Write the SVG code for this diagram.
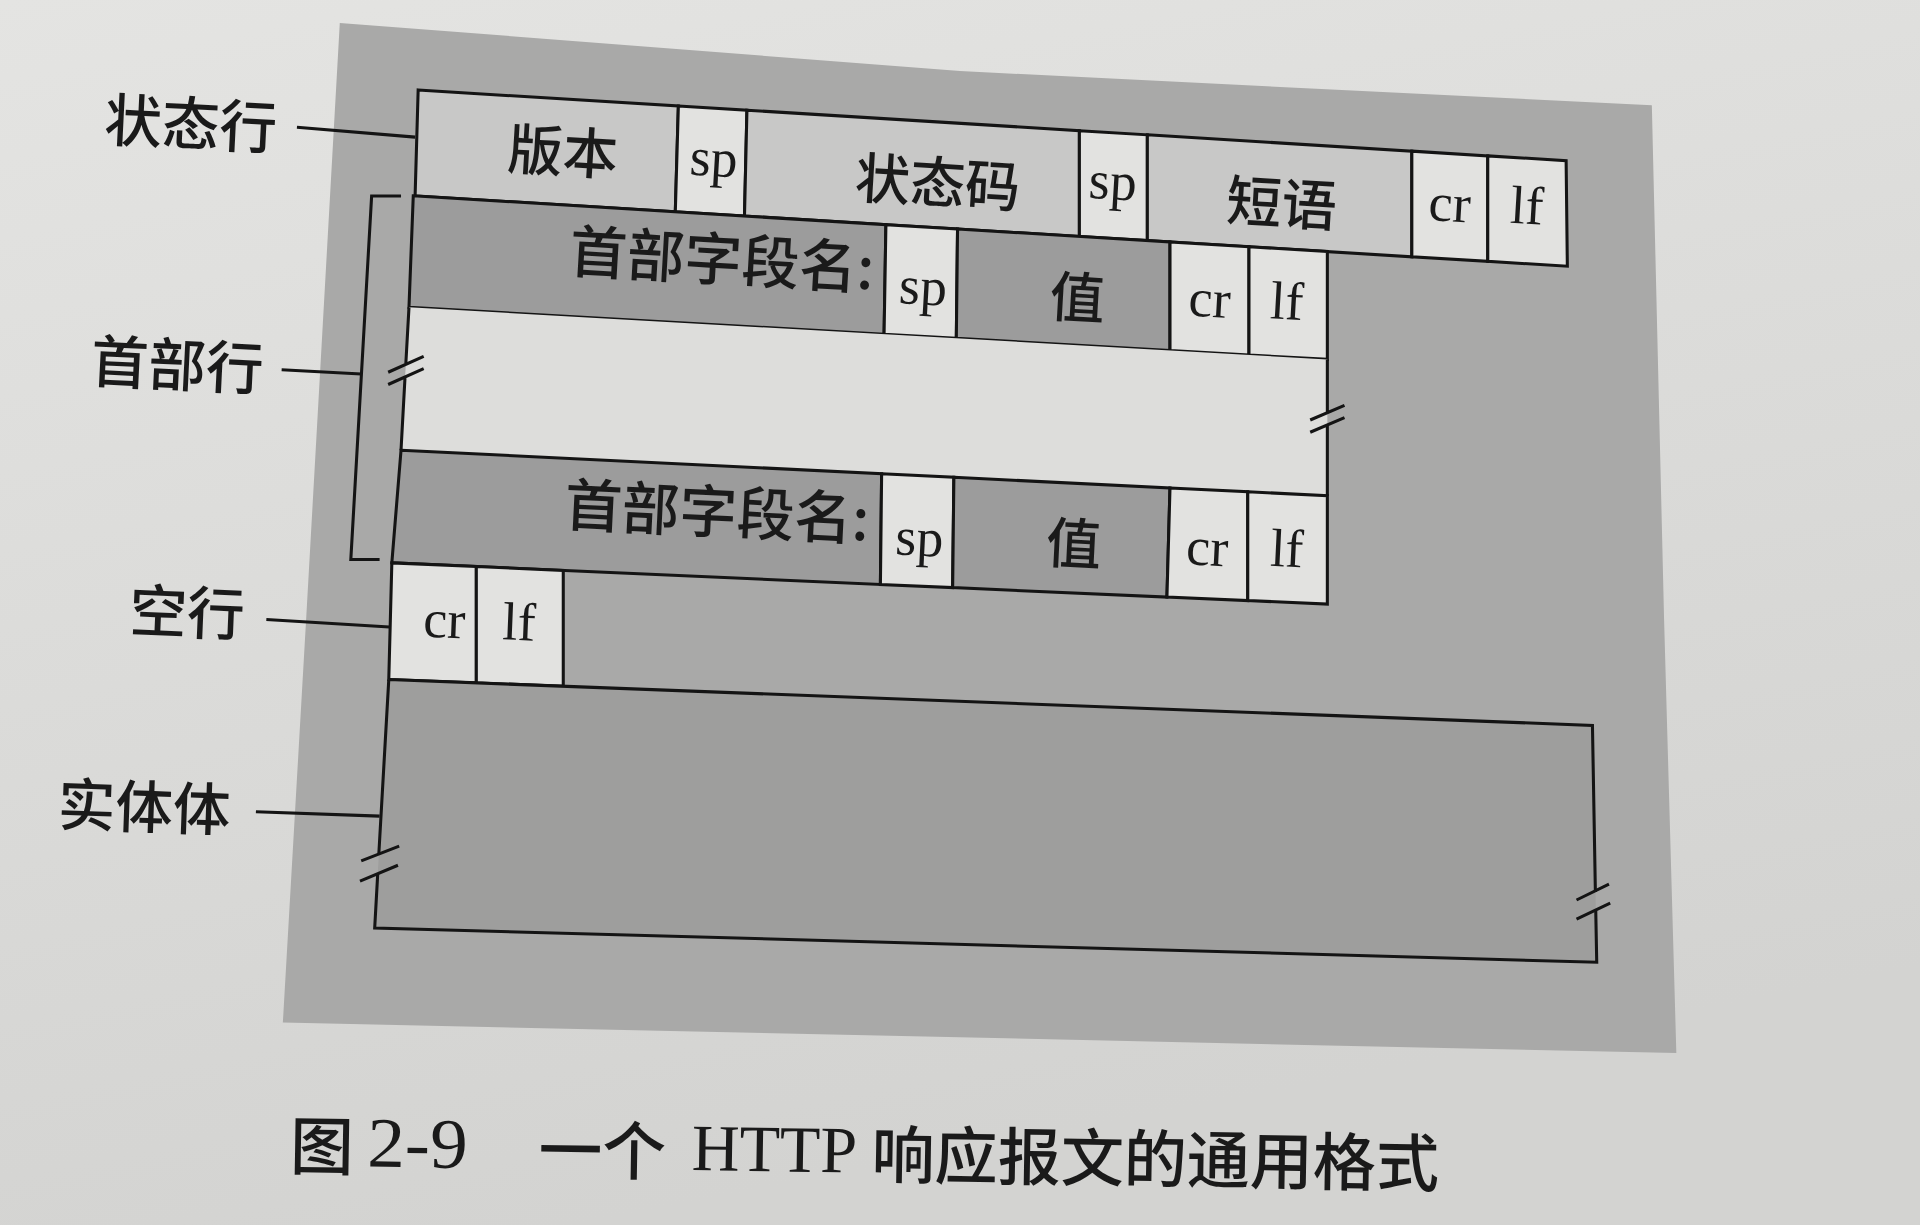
<svg xmlns="http://www.w3.org/2000/svg" width="1920" height="1225" viewBox="0 0 1920 1225">
<defs>
<linearGradient id="paper" x1="0" y1="0" x2="0.3" y2="1">
<stop offset="0" stop-color="#e4e4e2"/>
<stop offset="1" stop-color="#d3d3d1"/>
</linearGradient>
<style>
.cell{stroke:#141414;stroke-width:2.5;stroke-linejoin:miter}
.mid{fill:#c8c8c7}
.light{fill:#e2e2e0}
.dark{fill:#9c9c9c}
.line{fill:none;stroke:#141414;stroke-width:2.5}
.cjk{font-family:"Noto Sans CJK SC","Noto Sans CJK JP",sans-serif;font-weight:500;fill:#1a1a1a;dominant-baseline:central}
.lat{font-family:"Liberation Serif",serif;fill:#1a1a1a;dominant-baseline:central}
.c{text-anchor:middle}
</style>
</defs>
<rect width="1920" height="1225" fill="url(#paper)"/>
<g transform="scale(1.22449)">
  <polygon id="frame" points="277.5,18.7 784,58 1349,86 1359,506 1369,860 231,835 250,506" fill="#a9a9a8"/>

  <g id="status-line">
    <polygon class="cell mid" points="341.5,73.5 554,86.6 551.5,173 339,160"/>
    <polygon class="cell light" points="554,86.6 610,90 608,176.4 551.5,173"/>
    <polygon class="cell mid" points="610,90 881.5,106.7 881.5,193.1 608,176.4"/>
    <polygon class="cell light" points="881.5,106.7 937,110.1 937,196.5 881.5,193.1"/>
    <polygon class="cell mid" points="937,110.1 1153,123.4 1153,209.7 937,196.5"/>
    <polygon class="cell light" points="1153,123.4 1215,127.3 1215,213.4 1153,209.7"/>
    <polygon class="cell light" points="1215,127.3 1279,131.2 1280,217.4 1215,213.4"/>
    <text class="cjk c" font-size="45" x="460" y="121" transform="rotate(3.4 460 121)">版本</text>
    <text class="lat c" font-size="44" x="583" y="129" transform="rotate(3.4 583 129)">sp</text>
    <text class="cjk c" font-size="45" x="766" y="146" transform="rotate(3.4 766 146)">状态码</text>
    <text class="lat c" font-size="44" x="909" y="148" transform="rotate(3.4 909 148)">sp</text>
    <text class="cjk c" font-size="45" x="1047" y="163" transform="rotate(3.4 1047 163)">短语</text>
    <text class="lat c" font-size="44" x="1184" y="166" transform="rotate(3.4 1184 166)">cr</text>
    <text class="lat c" font-size="44" x="1247" y="168" transform="rotate(3.4 1247 168)">lf</text>
  </g>

  <g id="header-row-1">
    <polygon class="cell dark" points="337.5,159.9 723.5,183.5 722,273 334,251"/>
    <polygon class="cell light" points="723.5,183.5 782,187 781,276.3 722,273"/>
    <polygon class="cell dark" points="782,187 955.5,197.6 955.5,286.2 781,276.3"/>
    <polygon class="cell light" points="955.5,197.6 1020,201.5 1020,289.9 955.5,286.2"/>
    <polygon class="cell light" points="1020,201.5 1084,205.4 1084,293.5 1020,289.9"/>
    <text class="cjk" font-size="47" text-anchor="end" x="714" y="216" transform="rotate(3.3 714 216)">首部字段名:</text>
    <text class="lat c" font-size="44" x="754" y="234" transform="rotate(3.3 754 234)">sp</text>
    <text class="cjk c" font-size="45" x="880" y="240" transform="rotate(3.3 880 240)">值</text>
    <text class="lat c" font-size="44" x="988" y="244" transform="rotate(3.3 988 244)">cr</text>
    <text class="lat c" font-size="44" x="1051" y="246" transform="rotate(3.3 1051 246)">lf</text>
  </g>

  <g id="header-gap">
    <polygon points="334,251 1084,293.5 1084,404.8 327.5,367.7" fill="#dddddb"/>
    <path class="line" d="M334,251 L331.4,297.5 M330.8,307.5 L327.5,367.7 M317,304 L346,291 M317,314 L346,301"/>
    <path class="line" d="M1084,293.5 L1084,337 M1084,347 L1084,404.8 M1070,343 L1098,331 M1070,353 L1098,341"/>
  </g>

  <g id="header-row-2">
    <polygon class="cell dark" points="327.5,367.7 720,386.9 719,477.3 320,459.7"/>
    <polygon class="cell light" points="720,386.9 779,389.8 778,479.9 719,477.3"/>
    <polygon class="cell dark" points="779,389.8 955.5,398.5 953,487.6 778,479.9"/>
    <polygon class="cell light" points="955.5,398.5 1019,401.6 1019,490.5 953,487.6"/>
    <polygon class="cell light" points="1019,401.6 1084,404.8 1084,493.3 1019,490.5"/>
    <text class="cjk" font-size="47" text-anchor="end" x="710" y="421" transform="rotate(2.8 710 421)">首部字段名:</text>
    <text class="lat c" font-size="44" x="751" y="439" transform="rotate(2.8 751 439)">sp</text>
    <text class="cjk c" font-size="45" x="877" y="441" transform="rotate(2.8 877 441)">值</text>
    <text class="lat c" font-size="44" x="986" y="447" transform="rotate(2.8 986 447)">cr</text>
    <text class="lat c" font-size="44" x="1051" y="448" transform="rotate(2.8 1051 448)">lf</text>
  </g>

  <g id="blank-line">
    <polygon class="cell light" points="320,459.7 389,462.7 389,557.7 317.5,555"/>
    <polygon class="cell light" points="389,462.7 460,465.9 460,560.4 389,557.7"/>
    <text class="lat c" font-size="44" x="363" y="506" transform="rotate(2.3 363 506)">cr</text>
    <text class="lat c" font-size="44" x="424" y="508" transform="rotate(2.3 424 508)">lf</text>
  </g>

  <g id="entity-body">
    <polygon points="317.5,555 1300.5,592.4 1304,785.8 306,757.8" fill="#9e9e9d"/>
    <path class="line" d="M317.5,555 L1300.5,592.4 L1302.9,728.5 M1303.2,744 L1304,785.8 L306,757.8 L308.5,713 M309.4,697 L317.5,555"/>
    <path class="line" d="M295,703 L326,691 M294,719.6 L325,706.6 M1287.5,735 L1314,722 M1287.5,750.6 L1315,737.6"/>
  </g>

  <g id="labels">
    <text class="cjk c" font-size="47" x="156" y="98" transform="rotate(2.8 156 98)">状态行</text>
    <text class="cjk c" font-size="47" x="145" y="295" transform="rotate(2.8 145 295)">首部行</text>
    <text class="cjk c" font-size="47" x="153" y="497" transform="rotate(2.4 153 497)">空行</text>
    <text class="cjk c" font-size="47" x="118" y="656" transform="rotate(2 118 656)">实体体</text>
  </g>

  <g id="connectors">
    <path class="line" d="M242.5,104 L339,112"/>
    <path class="line" d="M230,302 L295,305.5"/>
    <path class="line" d="M217.5,506 L318,512"/>
    <path class="line" d="M209,663 L310,666.5"/>
    <path class="line" d="M327.5,160 L303.5,160 L286.5,457 L310,457"/>
  </g>

  <g id="caption" transform="rotate(0.9 237 932)">
    <text class="cjk" font-size="52" x="237" y="932">图</text>
    <text class="lat" font-size="58" x="300" y="932" textLength="82" lengthAdjust="spacingAndGlyphs">2-9</text>
    <text class="cjk" font-size="52" x="440" y="932">一个</text>
    <text class="lat" font-size="54" x="565" y="932">HTTP</text>
    <text class="cjk" font-size="51.5" x="712" y="932">响应报文的通用格式</text>
  </g>
</g>
</svg>
